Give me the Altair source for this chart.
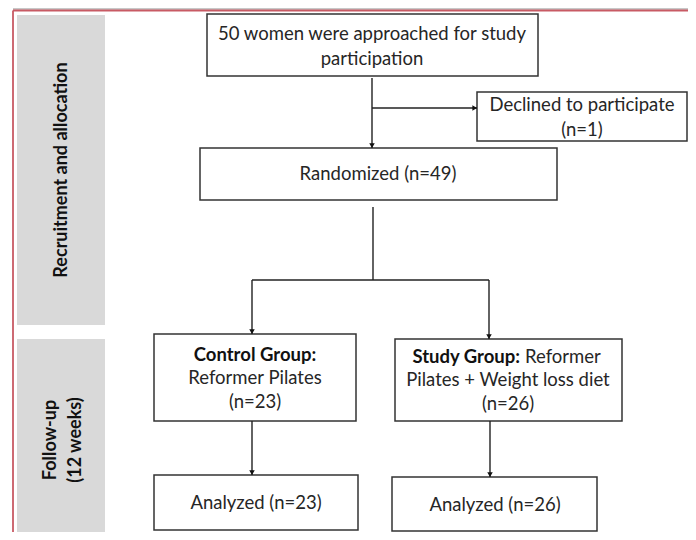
import altair as alt
import pandas as pd

# ---------------- data ----------------
# flowchart boxes (pixel layout of the diagram)
box_names = ["approached", "declined", "randomized", "control", "study", "analyzed_c", "analyzed_s"]
box_x0 = [207, 477, 200, 154, 395, 154, 392]
box_x1 = [538, 687, 557, 356, 622, 358, 597]
box_y0 = [14, 92, 148, 334, 339, 475, 477]
box_y1 = [76, 141, 200, 421, 421, 530, 531]

# grey stage panels on the left
panel_names = ["Recruitment and allocation", "Follow-up (12 weeks)"]
panel_x0 = [17, 17]
panel_x1 = [105, 105]
panel_y0 = [15, 339]
panel_y1 = [325, 560]

# connector lines
line_x0 = [372, 372, 373, 252, 252, 489, 252, 490]
line_x1 = [372, 477, 373, 489, 252, 489, 252, 490]
line_y0 = [78, 108, 207, 280, 280, 280, 421, 421]
line_y1 = [148, 108, 280, 280, 334, 339, 475, 477]

# arrow heads (tips)
arrow_down_x = [372, 252, 489, 252, 490]
arrow_down_y = [148, 334, 339, 475, 477]
arrow_right_x = [477]
arrow_right_y = [108]

# centred text lines
text_lines = ["50 women were approached for study", "participation",
              "Declined to participate", "(n=1)",
              "Randomized (n=49)",
              "Reformer Pilates", "(n=23)",
              "Pilates + Weight loss diet", "(n=26)",
              "Analyzed (n=23)", "Analyzed (n=26)"]
text_x = [372, 372, 582, 582, 378, 255, 255, 508, 508, 256, 495]
text_y = [34, 59, 105, 130, 174, 378, 402, 380, 404, 503, 505]

bold_lines = ["Control Group:"]
bold_x = [255]
bold_y = [355]

bold_right_lines = ["Study Group:"]
bold_right_x = [520]
bold_right_y = [357]

left_lines = ["Reformer"]
left_x = [525]
left_y = [357]

side_lines = ["Recruitment and allocation", "Follow-up", "(12 weeks)"]
side_x = [62, 51, 76]
side_y = [170, 440, 440]

# ---------------- chart ----------------
W, H = 680, 524
xs = alt.Scale(domain=[8, 688], nice=False, zero=False)
ys = alt.Scale(domain=[8, 532], nice=False, zero=False, reverse=True)

FONT = "Lato"
FS = 18.5
TXT = "#262626"

boxes = pd.DataFrame({"name": box_names, "x0": box_x0, "x1": box_x1, "y0": box_y0, "y1": box_y1})
panels = pd.DataFrame({"name": panel_names, "x0": panel_x0, "x1": panel_x1, "y0": panel_y0, "y1": panel_y1})
lines = pd.DataFrame({"x0": line_x0, "x1": line_x1, "y0": line_y0, "y1": line_y1})
adown = pd.DataFrame({"x": arrow_down_x, "y": arrow_down_y})
aright = pd.DataFrame({"x": arrow_right_x, "y": arrow_right_y})
texts = pd.DataFrame({"t": text_lines, "x": text_x, "y": text_y})
bolds = pd.DataFrame({"t": bold_lines, "x": bold_x, "y": bold_y})
bolds_r = pd.DataFrame({"t": bold_right_lines, "x": bold_right_x, "y": bold_right_y})
lefts = pd.DataFrame({"t": left_lines, "x": left_x, "y": left_y})
sides = pd.DataFrame({"t": side_lines, "x": side_x, "y": side_y})

border = pd.DataFrame({"x0": [13, 13, 13], "x1": [700, 700, 13],
                       "y0": [9, 10.5, 10.5], "y1": [9, 10.5, 560],
                       "c": ["edge", "top", "left"]})


def X(f):
    return alt.X(f, type="quantitative", scale=xs, axis=None)


def Y(f):
    return alt.Y(f, type="quantitative", scale=ys, axis=None)


panel_layer = alt.Chart(panels).mark_rect(fill="#d9d9d9").encode(
    x=X("x0"), x2="x1", y=Y("y0"), y2="y1")

box_layer = alt.Chart(boxes).mark_rect(fill="white", stroke="#333333", strokeWidth=1.5).encode(
    x=X("x0"), x2="x1", y=Y("y0"), y2="y1")

line_layer = alt.Chart(lines).mark_rule(color="#222222", strokeWidth=1.4).encode(
    x=X("x0"), x2="x1", y=Y("y0"), y2="y1")

down_layer = alt.Chart(adown).mark_point(
    shape="M-1,-1.7L1,-1.7L0,0Z", filled=True, size=30, color="#111111", opacity=1).encode(
    x=X("x"), y=Y("y"))

right_layer = alt.Chart(aright).mark_point(
    shape="M-1.7,-1L-1.7,1L0,0Z", filled=True, size=30, color="#111111", opacity=1).encode(
    x=X("x"), y=Y("y"))

text_layer = alt.Chart(texts).mark_text(
    font=FONT, fontSize=FS, color=TXT, align="center", baseline="middle").encode(
    x=X("x"), y=Y("y"), text="t:N")

bold_layer = alt.Chart(bolds).mark_text(
    font=FONT, fontSize=FS, fontWeight="bold", color="#111111", align="center", baseline="middle").encode(
    x=X("x"), y=Y("y"), text="t:N")

bold_r_layer = alt.Chart(bolds_r).mark_text(
    font=FONT, fontSize=FS, fontWeight="bold", color="#111111", align="right", baseline="middle").encode(
    x=X("x"), y=Y("y"), text="t:N")

left_layer = alt.Chart(lefts).mark_text(
    font=FONT, fontSize=FS, color=TXT, align="left", baseline="middle").encode(
    x=X("x"), y=Y("y"), text="t:N")

side_layer = alt.Chart(sides).mark_text(
    font=FONT, fontSize=18, fontWeight="bold", color="#111111", align="center",
    baseline="middle", angle=270).encode(
    x=X("x"), y=Y("y"), text="t:N")

border_layer = alt.Chart(border).mark_rule(strokeWidth=1.8).encode(
    x=X("x0"), x2="x1", y=Y("y0"), y2="y1",
    color=alt.Color("c:N", scale=alt.Scale(domain=["edge", "top", "left"],
                                           range=["#c8c8c8", "#c85a64", "#c85a64"]),
                    legend=None))

chart = alt.layer(
    panel_layer, border_layer, box_layer, line_layer, down_layer, right_layer,
    text_layer, bold_layer, bold_r_layer, left_layer, side_layer
).properties(
    width=W, height=H, padding=0, autosize=alt.AutoSizeParams(type="none"), background="white"
).configure_view(stroke=None)

chart.save("out.html", embed_options={"renderer": "svg", "actions": False})
